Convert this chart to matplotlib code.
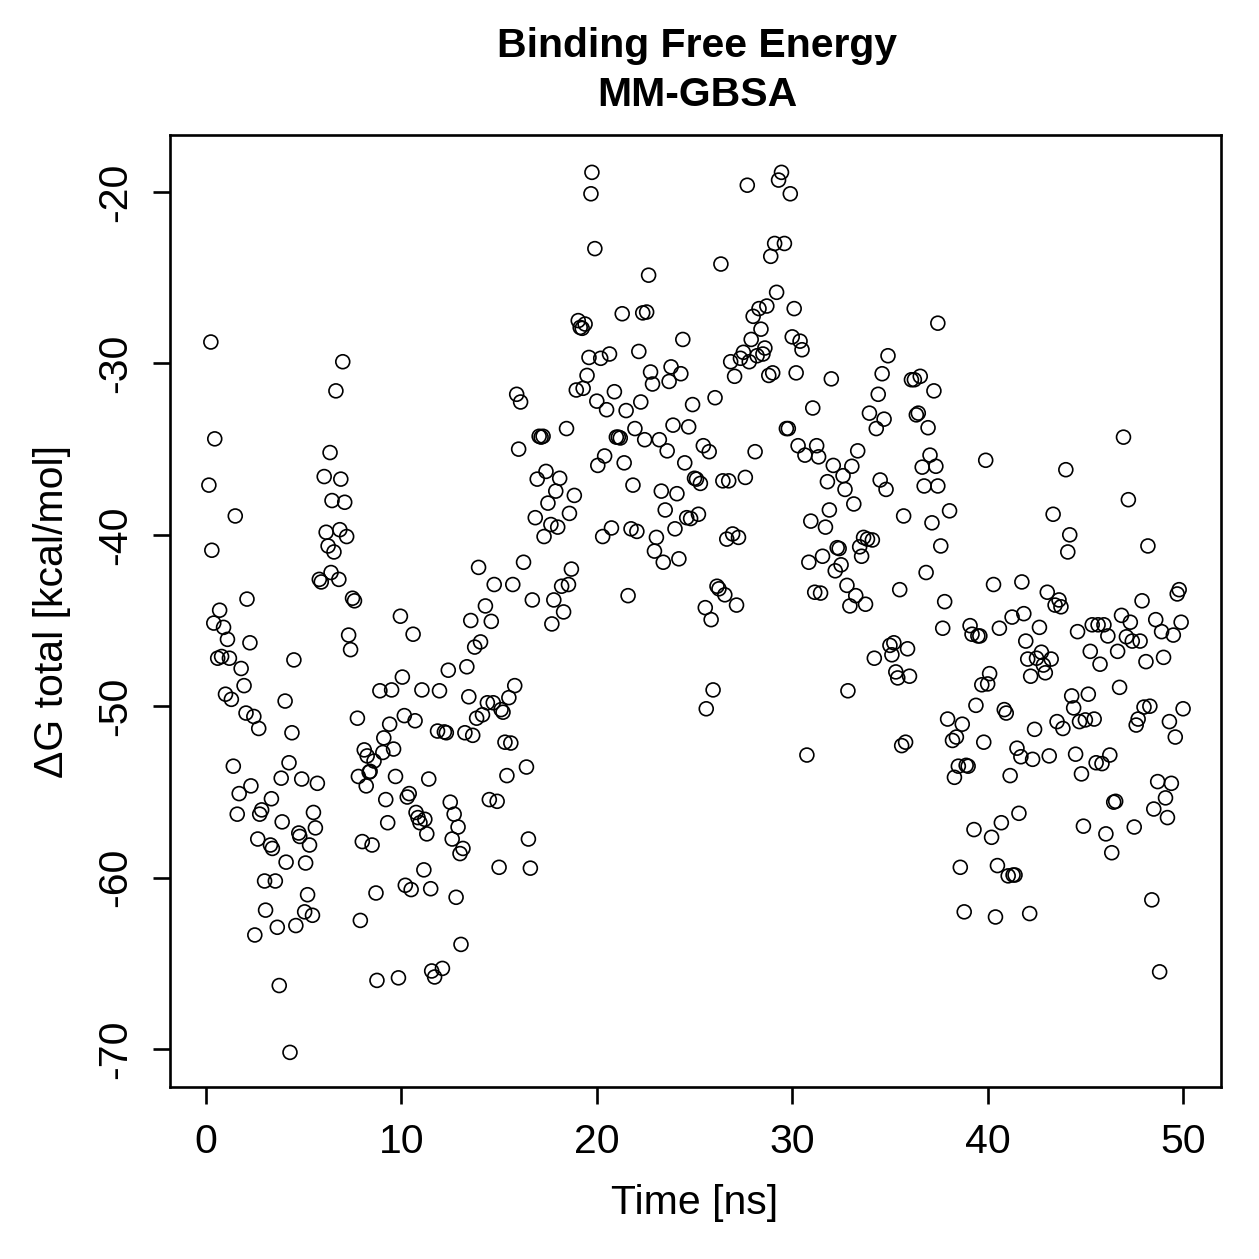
import matplotlib
matplotlib.use("Agg")
import matplotlib.pyplot as plt

plt.rcParams['font.family'] = ['Liberation Sans', 'DejaVu Sans']
plt.rcParams['axes.unicode_minus'] = False

time_ns = [
    0.15, 0.25, 0.3, 0.45, 0.4, 0.7, 0.6, 0.9, 0.8, 1.1, 1.2, 1.0, 1.3, 1.5, 1.4, 1.8, 1.6, 1.7, 1.95,
    2.1, 2.25, 2.05, 2.45, 2.3, 2.5, 2.7, 2.65, 2.85, 2.75, 3.0, 3.05, 3.3, 3.4, 3.35, 3.55, 3.65,
    3.75, 3.85, 3.9, 4.05, 4.1, 4.25, 4.3, 4.4, 4.5, 4.6, 4.75, 4.8, 4.9, 5.05, 5.1, 5.2, 5.3,
    5.45, 5.5, 5.6, 5.7, 5.8, 5.9, 6.05, 6.15, 6.25, 6.35, 6.4, 6.45, 6.55, 6.65, 6.8, 6.85, 6.9,
    7.0, 7.1, 7.2, 7.3, 7.4, 7.5, 7.6, 7.75, 7.8, 7.9, 8.0, 8.1, 8.2, 8.25, 8.35, 8.4, 8.5, 8.6,
    8.75, 8.7, 8.9, 9.05, 9.1, 9.2, 9.3, 9.4, 9.5, 9.6, 9.7, 9.85, 9.95, 10.05, 10.15, 10.2, 10.3,
    10.4, 10.5, 10.6, 10.7, 10.75, 10.85, 10.95, 11.05, 11.15, 11.2, 11.3, 11.4, 11.5, 11.55, 11.7,
    11.85, 11.95, 12.1, 12.2, 12.3, 12.4, 12.5, 12.6, 12.7, 12.8, 12.9, 13.0, 13.05, 13.15, 13.25,
    13.35, 13.45, 13.55, 13.65, 13.75, 13.85, 13.95, 14.05, 14.15, 14.3, 14.4, 14.5, 14.6, 14.7,
    14.75, 14.9, 15.0, 15.1, 15.2, 15.3, 15.4, 15.5, 15.6, 15.7, 15.8, 15.9, 16.0, 16.1, 16.25,
    16.4, 16.5, 16.6, 16.7, 16.85, 16.95, 17.05, 17.15, 17.25, 17.3, 17.4, 17.5, 17.65, 17.7, 17.8,
    17.9, 18.0, 18.1, 18.2, 18.3, 18.45, 18.55, 18.6, 18.7, 18.85, 18.95, 19.05, 19.15, 19.25, 19.3,
    19.4, 19.5, 19.6, 19.7, 19.75, 19.9, 20.0, 20.05, 20.2, 20.3, 20.4, 20.5, 20.65, 20.75, 20.9,
    21.0, 21.1, 21.2, 21.3, 21.4, 21.5, 21.6, 21.75, 21.85, 21.95, 22.05, 22.15, 22.25, 22.35, 22.45,
    22.55, 22.65, 22.75, 22.85, 22.95, 23.05, 23.2, 23.3, 23.4, 23.5, 23.6, 23.7, 23.8, 23.9, 24.0,
    24.1, 24.2, 24.3, 24.4, 24.5, 24.6, 24.7, 24.8, 24.9, 25.0, 25.1, 25.2, 25.3, 25.45, 25.55, 25.6,
    25.75, 25.85, 25.95, 26.05, 26.15, 26.25, 26.35, 26.45, 26.55, 26.65, 26.75, 26.85, 26.95, 27.05,
    27.15, 27.25, 27.35, 27.5, 27.6, 27.7, 27.8, 27.9, 28.0, 28.1, 28.2, 28.3, 28.4, 28.5, 28.6,
    28.7, 28.8, 28.9, 29.0, 29.1, 29.2, 29.3, 29.45, 29.6, 29.7, 29.8, 29.9, 30.0, 30.1, 30.2, 30.3,
    30.4, 30.5, 30.65, 30.75, 30.85, 30.95, 31.05, 31.15, 31.25, 31.35, 31.45, 31.55, 31.7, 31.8,
    31.9, 32.0, 32.1, 32.2, 32.3, 32.4, 32.5, 32.6, 32.7, 32.8, 32.85, 32.95, 33.05, 33.15, 33.25,
    33.35, 33.45, 33.55, 33.65, 33.75, 33.85, 33.95, 34.1, 34.2, 34.3, 34.4, 34.5, 34.6, 34.7, 34.8,
    34.9, 35.0, 35.1, 35.2, 35.3, 35.4, 35.5, 35.6, 35.7, 35.8, 35.9, 36.0, 36.1, 36.25, 36.35, 36.45,
    36.55, 36.65, 36.75, 36.85, 36.95, 37.05, 37.15, 37.25, 37.35, 37.45, 37.45, 37.6, 37.7, 37.8,
    37.95, 38.05, 38.2, 38.3, 38.4, 38.5, 38.6, 38.7, 38.8, 38.9, 39.0, 39.1, 39.2, 39.3, 39.4, 39.5,
    39.6, 39.7, 39.8, 39.9, 40.0, 40.1, 40.2, 40.3, 40.4, 40.5, 40.6, 40.7, 40.85, 40.95, 41.05,
    41.15, 41.25, 41.3, 41.4, 41.5, 41.6, 41.7, 41.75, 41.85, 41.95, 42.05, 42.15, 42.2, 42.3, 42.4,
    42.5, 42.65, 42.75, 42.85, 42.95, 43.05, 43.15, 43.25, 43.35, 43.45, 43.55, 43.65, 43.75, 43.85,
    44.0, 44.1, 44.2, 44.3, 44.4, 44.5, 44.6, 44.7, 44.8, 44.9, 45.0, 45.15, 45.25, 45.35, 45.45,
    45.55, 45.65, 45.75, 45.85, 45.95, 46.05, 46.15, 46.25, 46.35, 46.45, 46.55, 46.65, 46.75, 46.85,
    46.95, 47.1, 47.2, 47.3, 47.4, 47.5, 47.6, 47.7, 47.8, 47.9, 48.0, 48.1, 48.2, 48.3, 48.4, 48.5,
    48.6, 48.7, 48.8, 48.9, 49.0, 49.1, 49.2, 49.3, 49.4, 49.5, 49.6, 49.7, 49.8, 49.9, 50.0,
]

dg_total = [
    -37.1, -28.75, -40.9, -34.4, -45.15, -44.4, -47.2, -45.4, -47.1, -46.1, -47.2, -49.3, -49.6, -38.9, -53.5, -47.8, -56.3, -55.1, -48.8,
    -43.75, -46.3, -50.4, -50.6, -54.65, -63.35, -51.3, -57.75, -56.05, -56.3, -60.2, -61.9, -58.1, -58.3, -55.4, -60.2, -62.9,
    -66.3, -54.2, -56.75, -49.7, -59.1, -53.3, -70.2, -51.55, -47.3, -62.8, -57.4, -57.6, -54.25, -62.0, -59.15, -61.0, -58.1,
    -62.2, -56.2, -57.1, -54.5, -42.6, -42.75, -36.6, -39.85, -40.65, -35.2, -42.2, -38.0, -41.0, -31.6, -42.6, -39.7, -36.75,
    -29.9, -38.1, -40.1, -45.85, -46.7, -43.7, -43.85, -50.7, -54.1, -62.5, -57.9, -52.55, -54.65, -52.9, -53.85, -53.8, -58.1, -53.2,
    -66.0, -60.9, -49.1, -52.7, -51.85, -55.45, -56.8, -51.05, -49.05, -52.5, -54.1, -65.85, -44.75, -48.3, -50.55, -60.45, -55.3,
    -55.1, -60.7, -45.8, -50.85, -56.2, -56.5, -56.8, -49.05, -59.55, -56.6, -57.45, -54.25, -60.65, -65.45, -65.8,
    -51.45, -49.1, -65.3, -51.5, -51.55, -47.9, -55.6, -57.75, -56.3, -61.15, -57.05, -58.6, -63.9, -58.3, -51.55,
    -47.7, -49.45, -45.0, -51.7, -46.55, -50.7, -41.9, -46.25, -50.5, -44.15, -49.8, -55.45, -45.05, -49.8,
    -42.9, -55.55, -59.4, -50.2, -50.35, -52.1, -54.05, -49.5, -52.15, -42.9, -48.8, -31.8, -35.0, -32.25, -41.6,
    -53.55, -57.75, -59.45, -43.8, -39.0, -36.75, -34.25, -34.3, -34.25, -40.1, -36.3, -38.15, -39.4, -45.2, -43.8,
    -37.45, -39.55, -36.7, -43.0, -44.5, -33.8, -42.9, -38.75, -42.0, -37.7, -31.55, -27.5, -27.9, -27.95, -31.45,
    -27.7, -30.7, -29.65, -20.1, -18.85, -23.3, -32.2, -35.95, -29.7, -40.1, -35.4, -32.7, -29.45, -39.6, -31.65,
    -34.3, -34.3, -34.35, -27.1, -35.8, -32.75, -43.55, -39.65, -37.1, -33.8, -39.8, -29.3, -32.25, -27.05, -34.45,
    -27.0, -24.85, -30.5, -31.2, -40.95, -40.15, -34.45, -37.45, -41.6, -38.55, -35.1, -31.05, -30.2, -33.6, -39.65,
    -37.6, -41.4, -30.6, -28.6, -35.8, -39.0, -33.7, -39.05, -32.4, -36.7, -36.75, -38.8, -37.0, -34.8, -44.25, -50.15,
    -35.15, -44.95, -49.05, -32.0, -43.0, -43.15, -24.2, -36.85, -43.5, -40.25, -36.85, -29.9, -39.95, -30.75,
    -44.1, -40.15, -29.7, -29.35, -36.65, -19.6, -29.9, -28.6, -27.25, -35.15, -29.55, -26.8, -28.0, -29.45, -29.1,
    -26.65, -30.7, -23.75, -30.55, -23.0, -25.85, -19.3, -18.85, -23.0, -33.8, -33.8, -20.1, -28.45, -26.8, -30.55, -34.8,
    -28.7, -29.2, -35.35, -52.85, -41.6, -39.2, -32.6, -43.35, -34.8, -35.45, -43.4, -41.25, -39.55, -36.9,
    -38.55, -30.9, -35.95, -42.1, -40.75, -40.8, -41.75, -36.55, -37.35, -42.95, -49.1, -44.15, -36.0, -38.2, -43.55,
    -35.1, -40.7, -41.25, -40.15, -44.05, -40.25, -32.9, -40.3, -47.2, -33.8, -31.8, -36.8, -30.6, -33.25, -37.35,
    -29.55, -46.45, -47.0, -46.3, -48.0, -48.35, -43.2, -52.3, -38.9, -52.1, -46.65, -48.25, -30.95, -30.95, -33.0, -32.9,
    -30.75, -36.05, -37.15, -42.2, -33.75, -35.35, -39.3, -31.6, -36.0, -37.15, -27.65, -40.65, -45.45, -43.9,
    -50.75, -38.6, -52.0, -54.15, -51.8, -53.5, -59.4, -51.05, -62.0, -53.45, -53.5, -45.3, -45.8, -57.2, -49.95, -45.9,
    -45.9, -48.75, -52.1, -35.65, -48.7, -48.1, -57.65, -42.9, -62.3, -59.3, -45.45, -56.8, -50.2, -50.4, -59.9,
    -54.05, -44.8, -59.85, -59.85, -52.45, -56.25, -52.95, -42.75, -44.6, -46.2, -47.25, -62.1, -48.25, -53.1, -51.35,
    -47.2, -45.4, -46.85, -47.6, -48.05, -43.35, -52.9, -47.25, -38.8, -44.1, -50.9, -43.8, -44.2, -51.3,
    -36.2, -41.0, -40.0, -49.4, -50.1, -52.8, -45.65, -50.9, -53.95, -57.0, -50.8, -49.3, -46.8, -45.25, -50.75,
    -53.3, -45.25, -47.55, -53.35, -45.25, -57.45, -45.9, -52.85, -58.55, -55.6, -55.55, -46.8, -48.9, -44.7,
    -34.3, -45.95, -37.95, -45.1, -46.2, -57.05, -51.1, -50.75, -46.2, -43.85, -50.05, -47.4, -40.65, -50.0, -61.3, -56.0,
    -44.95, -54.4, -65.5, -45.65, -47.15, -55.35, -56.5, -50.9, -54.5, -45.85, -51.8, -43.45, -43.2, -45.1, -50.15,
]

x_ticks = [0, 10, 20, 30, 40, 50]
y_ticks = [-20, -30, -40, -50, -60, -70]

W = 1259
fig = plt.figure(figsize=(12.59, 12.59), dpi=100)
ax = fig.add_axes([170 / W, 1 - 1087 / W, (1221 - 170) / W, (1087 - 135) / W])

ax.scatter(time_ns, dg_total, s=100, facecolors='none', edgecolors='black', linewidths=1.2)

ax.set_xlim(-1.84, 51.94)
ax.set_ylim(-72.22, -16.67)
ax.set_xticks(x_ticks)
ax.set_yticks(y_ticks)
ax.set_xticklabels([str(v) for v in x_ticks])
ax.set_yticklabels([str(v) for v in y_ticks])

for sp in ax.spines.values():
    sp.set_linewidth(1.9)
ax.tick_params(axis='both', direction='out', length=12, width=1.9, labelsize=29.5, pad=14)
ax.tick_params(axis='y', labelrotation=90)
for lab in ax.get_yticklabels():
    lab.set_va('center')

fig.text(695 / W, 1 - 1203 / W, 'Time [ns]', ha='center', va='center', fontsize=29.5)
fig.text(52 / W, 1 - 611 / W, 'ΔG total [kcal/mol]', ha='center', va='center', rotation=90, fontsize=29.5)
fig.text(697 / W, 1 - 46 / W, 'Binding Free Energy', ha='center', va='center', fontsize=29.5, fontweight='bold')
fig.text(697 / W, 1 - 95 / W, 'MM-GBSA', ha='center', va='center', fontsize=29.5, fontweight='bold')

fig.savefig('out.png', dpi=100, facecolor='white')
